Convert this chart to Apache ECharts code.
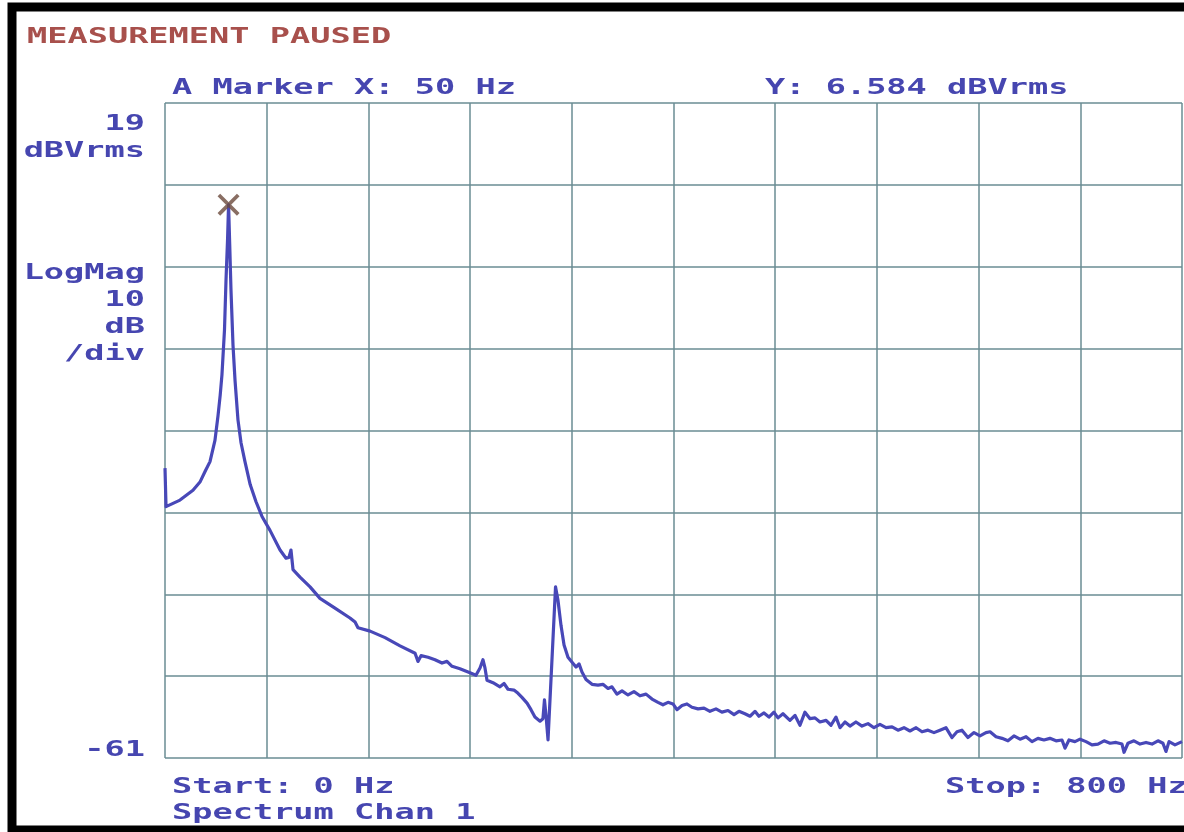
<!DOCTYPE html>
<html lang="en">
<head>
  <meta charset="UTF-8">
  <title>Spectrum Chan 1</title>
  <script src="https://cdn.jsdelivr.net/npm/echarts@6.0.0/dist/echarts.min.js"></script>
  <style>
    html, body { margin: 0; padding: 0; background: #fff; }
  </style>
</head>
<body>
  <div id="main" style="width: 1184px;height:832px;"></div>

  <script type="text/javascript">
    // trace: frequency (Hz) and level (dBVrms)
    const freqHz = [
      0, 0.8, 11.8, 22.0, 27.5, 31.5, 35.4, 39.3, 41.7, 43.4, 44.8, 46.8, 48.0, 49.2, 50, 50.9, 51.9, 53.5, 55.1,
      57.4, 59.8, 62.9, 67.0, 71.6, 76.3, 82.6, 90.5, 95.2, 97.5, 99.1, 100.7, 106.2, 114.1, 121.9, 133.7, 145.5,
      149.5, 151.8, 161.3, 173.1, 184.9, 196.7, 199.0, 201.4, 206.9, 212.4, 217.9, 221.8, 225.8, 232.0, 239.9,
      244.6, 247.8, 250.1, 251.7, 253.3, 258.0, 263.5, 266.7, 269.8, 274.5, 277.7, 280.8, 284.8, 287.9, 291.0,
      295.0, 297.3, 298.5, 299.7, 301.3, 304.4, 307.2, 309.1, 311.5, 313.9, 317.0, 320.2, 323.3, 325.7, 328.0,
      331.2, 335.9, 340.6, 344.5, 348.5, 351.6, 355.5, 359.5, 364.2, 368.9, 373.6, 378.4, 383.1, 387.8, 391.7,
      395.7, 399.6, 402.7, 406.7, 410.6, 414.5, 419.3, 424.0, 428.7, 433.4, 438.1, 442.9, 447.6, 451.5, 456.2,
      460.2, 464.1, 467.2, 471.2, 475.1, 479.0, 482.2, 486.1, 491.6, 495.6, 499.5, 503.4, 507.4, 511.3, 515.2,
      520.0, 523.9, 527.8, 531.0, 534.9, 538.8, 543.5, 548.3, 553.0, 557.7, 562.4, 567.2, 571.9, 576.6, 581.3,
      586.0, 590.8, 595.5, 600.2, 604.9, 609.6, 614.3, 619.1, 623.0, 626.9, 631.6, 636.4, 641.1, 645.8, 649.0,
      653.7, 658.4, 663.1, 667.8, 672.6, 677.3, 682.0, 686.7, 691.4, 696.1, 700.9, 705.6, 708.0, 711.1, 715.8,
      719.8, 724.5, 729.2, 733.9, 738.7, 743.4, 748.1, 752.8, 754.4, 757.5, 762.2, 767.0, 771.7, 776.4, 781.1,
      785.0, 787.4, 789.8, 794.5, 800
    ];
    const levelDb = [
      -25.6, -30.3, -29.5, -28.3, -27.3, -26.0, -24.8, -22.2, -19.2, -16.7, -14.2, -8.7, -2.6, 2.3, 6.584, 1.7, -3.8, -10.6, -14.9,
      -19.7, -22.5, -24.8, -27.6, -29.7, -31.5, -33.2, -35.6, -36.6, -36.5, -35.6, -38.0, -38.9, -40.1, -41.5, -42.7, -43.9,
      -44.4, -45.1, -45.5, -46.3, -47.3, -48.2, -49.2, -48.5, -48.7, -49.0, -49.4, -49.2, -49.8, -50.1, -50.6,
      -50.9, -50.0, -49.0, -50.0, -51.5, -51.8, -52.3, -51.9, -52.6, -52.7, -53.1, -53.6, -54.3, -55.1, -56.0,
      -56.5, -56.2, -53.9, -55.8, -58.8, -49.0, -40.1, -41.7, -44.8, -47.2, -48.7, -49.3, -49.9, -49.5, -50.5,
      -51.4, -52.0, -52.1, -52.0, -52.5, -52.3, -53.2, -52.8, -53.3, -52.9, -53.4, -53.2, -53.8, -54.2, -54.5,
      -54.2, -54.4, -55.1, -54.6, -54.4, -54.8, -55.0, -54.9, -55.3, -55.0, -55.4, -55.2, -55.7, -55.3, -55.6,
      -55.9, -55.3, -55.9, -55.5, -56.0, -55.4, -56.1, -55.6, -56.4, -55.8, -57.0, -55.4, -56.2, -56.1, -56.6,
      -56.4, -57.0, -56.0, -57.3, -56.6, -57.1, -56.6, -57.1, -56.8, -57.3, -56.9, -57.3, -57.2, -57.6, -57.3,
      -57.7, -57.3, -57.8, -57.6, -57.9, -57.6, -57.3, -58.5, -57.8, -57.6, -58.5, -57.9, -58.3, -57.9, -57.8,
      -58.4, -58.6, -58.9, -58.3, -58.7, -58.4, -59.0, -58.6, -58.8, -58.6, -58.9, -58.8, -59.8, -58.8, -59.0,
      -58.7, -59.0, -59.4, -59.3, -58.9, -59.2, -59.1, -59.3, -60.3, -59.2, -58.9, -59.3, -59.1, -59.3, -58.9,
      -59.2, -60.2, -59.0, -59.4, -59.0
    ];

    const freqRange = [0, 800];     // Start / Stop
    const levelRange = [-61, 19];   // bottom / top of screen
    const divCount = 8;             // 10 dB/div
    const marker = { hz: 50, db: 6.584 };

    const leftLabels = ['19', 'dBVrms', 'LogMag', '10', 'dB', '/div', '-61'];
    const leftLabelY = [125, 152, 274, 301, 328, 355, 751];

    const blue = '#4646b0';
    const red = '#a8504c';
    const font = 'bold 21px "DejaVu Sans Mono"';
    const stretch = 1.6;

    function txt(text, x, y, color, align) {
      return {
        type: 'text', x: x, y: y, scaleX: stretch, z: 10,
        style: {
          text: text, font: font, fill: color,
          textAlign: align || 'left', align: align || 'left',
          textVerticalAlign: 'middle', verticalAlign: 'middle'
        }
      };
    }

    let myChart = echarts.init(document.getElementById('main'));

    let graphics = [
      { type: 'rect', shape: { x: 12, y: 7, width: 1200, height: 823 },
        style: { fill: 'none', stroke: '#000', lineWidth: 9 }, z: 20 },
      txt('MEASUREMENT PAUSED', 27, 38, red),
      txt('A Marker X: ' + marker.hz + ' Hz', 172, 89, blue),
      txt('Y: ' + marker.db.toFixed(3) + ' dBVrms', 765, 89, blue),
      txt('Start: ' + freqRange[0] + ' Hz', 172, 788, blue),
      txt('Spectrum Chan 1', 172, 814, blue),
      txt('Stop: ' + freqRange[1] + ' Hz', 945, 788, blue)
    ];
    leftLabels.forEach((t, i) => graphics.push(txt(t, 145, leftLabelY[i], blue, 'right')));

    const gridLine = { show: true, lineStyle: { color: '#6a8c93', width: 1.5, type: 'solid' } };

    let options = {
      backgroundColor: '#fff',
      animation: false,
      grid: { left: 165, top: 103, right: 2, bottom: 74 },
      xAxis: {
        type: 'value', min: freqRange[0], max: freqRange[1], interval: 80,
        axisLine: { show: false }, axisTick: { show: false }, axisLabel: { show: false },
        splitLine: gridLine
      },
      yAxis: [
        { type: 'value', min: levelRange[0], max: levelRange[1], show: false, splitLine: { show: false } },
        {
          type: 'value', min: 0, max: divCount, interval: 1,
          axisLine: { show: false }, axisTick: { show: false }, axisLabel: { show: false },
          splitLine: gridLine
        }
      ],
      graphic: graphics,
      series: [
        {
          name: 'Spectrum', type: 'line', yAxisIndex: 0,
          data: freqHz.map((f, i) => [f, levelDb[i]]),
          showSymbol: false, smooth: false,
          lineStyle: { color: '#4848b8', width: 3.2, join: 'round' },
          z: 3
        },
        {
          name: 'Marker', type: 'scatter', yAxisIndex: 0,
          data: [[marker.hz, marker.db]],
          symbol: 'path://M0,1.2L1.2,0L10,8.8L8.8,10Z M8.8,0L10,1.2L1.2,10L0,8.8Z',
          symbolSize: 22,
          itemStyle: { color: '#6b4a3c' },
          z: 4
        }
      ]
    };

    myChart.setOption(options);
  </script>
</body>
</html>
